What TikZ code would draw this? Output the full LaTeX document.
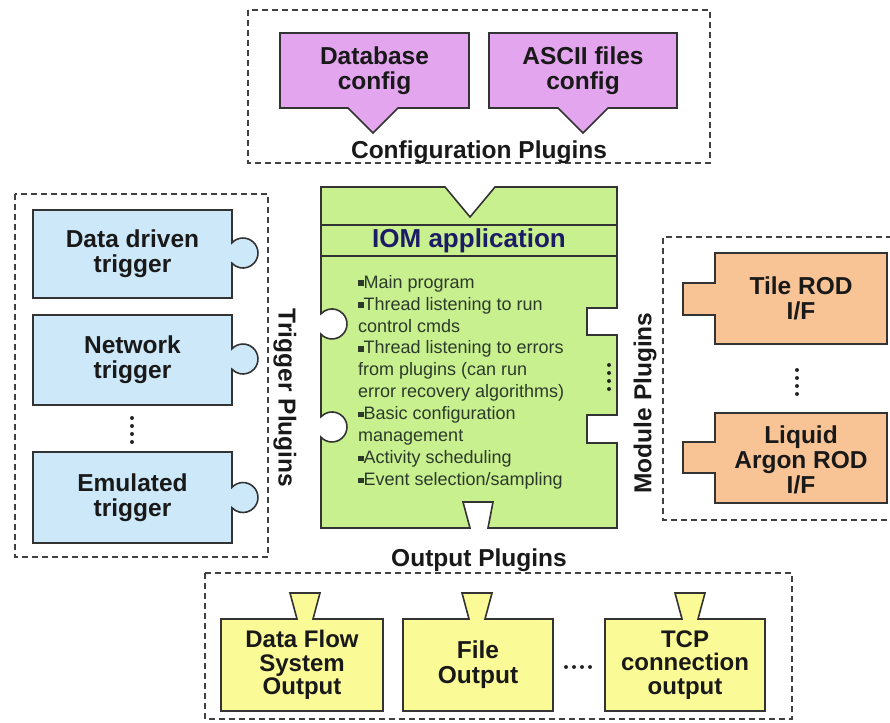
\documentclass[tikz,border=0pt]{standalone}
\usepackage{fontspec}
\setmainfont{Liberation Sans}
\definecolor{cfgpink}{HTML}{E3A6EE}
\definecolor{trigblue}{HTML}{CDE8F8}
\definecolor{iomgreen}{HTML}{C9F08F}
\definecolor{modorange}{HTML}{F8C495}
\definecolor{outyellow}{HTML}{FAFA96}
\definecolor{iomnavy}{HTML}{1C1C66}
\definecolor{edgegray}{HTML}{333333}
\definecolor{bodytext}{HTML}{2B3A2B}
\newcommand{\sqb}{\rule[0.25ex]{0.3em}{0.3em}}
\begin{document}
\begin{tikzpicture}[x=1pt, y=1pt,
    every node/.style={inner sep=0pt, align=center, text=black!90},
    lbl/.style={font=\fontsize{24.5}{25}\selectfont\bfseries},
    grplbl/.style={font=\fontsize{24.5}{25}\selectfont\bfseries},
    piece/.style={draw=edgegray, line width=1.6pt, line join=miter},
    grp/.style={draw=black!75, line width=1.3pt, dash pattern=on 6pt off 4pt},
    sep/.style={draw=edgegray, line width=1.6pt}]

    \useasboundingbox (0,0) rectangle (890,722);

    % Configuration plugins (top)
    \draw[grp] (248,712) rectangle (710,559);
    \filldraw[piece, fill=cfgpink] (280,689) -- (469,689) -- (469,614) -- (398,614) -- (373,589) -- (348,614) -- (280,614) -- cycle;
    \filldraw[piece, fill=cfgpink] (489,689) -- (677,689) -- (677,614) -- (608,614) -- (583,589) -- (558,614) -- (489,614) -- cycle;
    \node[lbl] (dbcfg) at (374.5,651.5) {Database\\config};
    \node[lbl] (asciicfg) at (583,651.5) {ASCII files\\config};
    \node[grplbl] (cfgplug) at (479,570) {Configuration Plugins};

    % IOM application (centre)
    \filldraw[piece, fill=iomgreen] (321,535) -- (445,535) -- (470,505) -- (495,535) -- (617,535)
        -- (617,414) -- (587,414) -- (587,387) -- (617,387)
        -- (617,307) -- (587,307) -- (587,279) -- (617,279)
        -- (617,194) -- (488,194) -- (493,220) -- (463,220) -- (470,194) -- (321,194)
        -- (321,284.8) arc[start angle=-137, end angle=137, radius=15]
        -- (321,387.8) arc[start angle=-137, end angle=137, radius=15]
        -- cycle;
    \draw[sep] (321,497) -- (617,497);
    \draw[sep] (321,466) -- (617,466);
    \node[font=\fontsize{26}{27}\selectfont\bfseries, text=iomnavy] (iomtitle) at (469,481) {IOM application};
    \node[anchor=north west, align=left, text=bodytext, font=\fontsize{18}{21.9}\selectfont] (iomtxt) at (358,447)
        {\sqb Main program\\
         \sqb Thread listening to run\\
         control cmds\\
         \sqb Thread listening to errors\\
         from plugins (can run\\
         error recovery algorithms)\\
         \sqb Basic configuration\\
         management\\
         \sqb Activity scheduling\\
         \sqb Event selection/sampling};
    \foreach \y in {357,349,341,333}
        \fill[black!85] (609,\y) circle (2);

    % Trigger plugins (left)
    \draw[grp] (15,528) rectangle (268,165);
    \filldraw[piece, fill=trigblue] (33,512) -- (232,512) -- (232,479.2) arc[start angle=137, end angle=-137, radius=15] -- (232,424) -- (33,424) -- cycle;
    \filldraw[piece, fill=trigblue] (33,407) -- (232,407) -- (232,373.2) arc[start angle=137, end angle=-137, radius=15] -- (232,317) -- (33,317) -- cycle;
    \filldraw[piece, fill=trigblue] (33,270) -- (232,270) -- (232,234.7) arc[start angle=137, end angle=-137, radius=15] -- (232,179) -- (33,179) -- cycle;
    \node[lbl] (ddtrig) at (132.5,468) {Data driven\\trigger};
    \node[lbl] (nettrig) at (132.5,362) {Network\\trigger};
    \node[lbl] (emutrig) at (132.5,224.5) {Emulated\\trigger};
    \foreach \y in {304,296,288,280}
        \fill[black!85] (132,\y) circle (2);
    \node[grplbl, rotate=-90] (trigplug) at (285,324) {Trigger Plugins};

    % Module plugins (right)
    \draw[grp] (892,485) -- (663,485) -- (663,202) -- (892,202);
    \filldraw[piece, fill=modorange] (715,469) -- (887,469) -- (887,378) -- (715,378) -- (715,407) -- (683,407) -- (683,439) -- (715,439) -- cycle;
    \filldraw[piece, fill=modorange] (715,309) -- (887,309) -- (887,219) -- (715,219) -- (715,249) -- (683,249) -- (683,280) -- (715,280) -- cycle;
    \node[lbl] (tilerod) at (801,424) {Tile ROD\\I/F};
    \node[lbl] (larrod) at (801,262) {Liquid\\Argon ROD\\I/F};
    \foreach \y in {352,344,336,328}
        \fill[black!85] (797,\y) circle (2);
    \node[grplbl, rotate=90] (modplug) at (645,319) {Module Plugins};

    % Output plugins (bottom)
    \node[grplbl] (outplug) at (479,162) {Output Plugins};
    \draw[grp] (205,149) rectangle (792,3);
    \filldraw[piece, fill=outyellow] (221,103) -- (297,103) -- (290,129) -- (320,129) -- (313,103) -- (383,103) -- (383,11) -- (221,11) -- cycle;
    \filldraw[piece, fill=outyellow] (403,103) -- (469,103) -- (462,129) -- (492,129) -- (485,103) -- (553,103) -- (553,11) -- (403,11) -- cycle;
    \filldraw[piece, fill=outyellow] (605,103) -- (682,103) -- (675,129) -- (705,129) -- (698,103) -- (765,103) -- (765,11) -- (605,11) -- cycle;
    \node[lbl, font=\fontsize{24}{23.5}\selectfont\bfseries] (dfsout) at (302,57) {Data Flow\\System\\Output};
    \node[lbl] (fileout) at (478,57) {File\\Output};
    \node[lbl, font=\fontsize{24}{23.5}\selectfont\bfseries] (tcpout) at (685,57) {TCP\\connection\\output};
    \foreach \x in {566,574,582,590}
        \fill[black!85] (\x,55) circle (2);

\end{tikzpicture}
\end{document}
